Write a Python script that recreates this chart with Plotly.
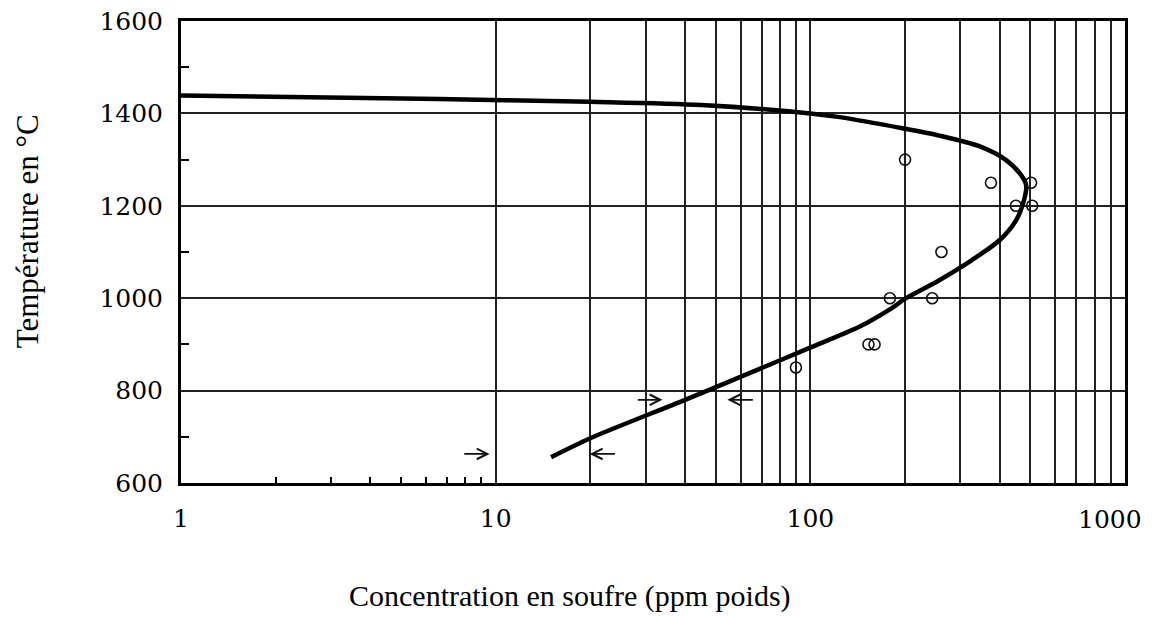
import numpy as np
import plotly.graph_objects as go

# Solubility curve (sulfur concentration ppm vs temperature °C)
curve_ppm = [1, 6.6, 20, 45, 100, 124, 196, 257, 344, 419, 467, 485, 478, 451, 400, 327, 257, 199, 182, 143, 99, 69, 40, 20, 15]
curve_temp = [1439, 1431, 1425, 1418, 1400, 1392, 1368, 1352, 1329, 1299, 1267, 1245, 1213, 1169, 1126, 1083, 1039, 998, 979, 938, 892, 847, 780, 697, 656]

# Measured points (open circles)
pts_ppm = [200, 375, 503, 450, 507, 261, 179, 244, 153, 160, 90]
pts_temp = [1300, 1250, 1250, 1200, 1200, 1100, 1000, 1000, 900, 900, 850]

# Arrows: tail -> head
arr_tail_ppm = [7.86, 24.2, 28.0, 66.4]
arr_head_ppm = [9.57, 19.9, 33.9, 54.5]
arr_temp = [663, 663, 780, 780]

# Ticks
x_tickvals = [1, 10, 20, 30, 40, 50, 60, 70, 80, 90, 100, 200, 300, 400, 500, 600, 700, 800, 900, 1000]
x_ticktext = ["1", "10", "", "", "", "", "", "", "", "", "100", "", "", "", "", "", "", "", "", ""]
x_last_label = "1000"
x_minor = [2, 3, 4, 5, 6, 7, 8, 9]
y_tickvals = [600, 800, 1000, 1200, 1400, 1600]
y_minor = [700, 900, 1100, 1300, 1500]

fig = go.Figure()
fig.add_trace(go.Scatter(x=curve_ppm, y=curve_temp, mode="lines",
                         line=dict(color="black", width=4.5, shape="spline", smoothing=0.8),
                         hoverinfo="skip", showlegend=False))
fig.add_trace(go.Scatter(x=pts_ppm, y=pts_temp, mode="markers",
                         marker=dict(symbol="circle-open", size=11, color="#111", line=dict(width=1.6)),
                         showlegend=False))

anns = []
for t, h, y in zip(arr_tail_ppm, arr_head_ppm, arr_temp):
    anns.append(dict(x=np.log10(h), y=y, ax=np.log10(t), ay=y, xref="x", yref="y",
                     axref="x", ayref="y", text="", showarrow=True, arrowhead=5,
                     arrowsize=1.3, arrowwidth=1.6, arrowcolor="#111", standoff=0))

tickfont = dict(family="DejaVu Serif, serif", size=25, color="black")
serif = "Liberation Serif, Times New Roman, serif"
anns.append(dict(text=x_last_label, x=3, y=0, xref="x", yref="paper", showarrow=False,
                 xanchor="right", yanchor="top", xshift=19, yshift=-20, font=tickfont))
anns.append(dict(text="Concentration en soufre (ppm poids)", x=0.412, y=-0.245, xref="paper", yref="paper",
                 showarrow=False, xanchor="center", yanchor="middle",
                 font=dict(family=serif, size=30, color="black")))
anns.append(dict(text="Température en °C", x=-0.163, y=0.545, xref="paper", yref="paper",
                 showarrow=False, xanchor="center", yanchor="middle", textangle=-90,
                 font=dict(family=serif, size=31, color="black")))

fig.update_layout(
    width=1158, height=617,
    margin=dict(l=181, r=33, t=21, b=134, autoexpand=False),
    paper_bgcolor="white", plot_bgcolor="white",
    annotations=anns,
    xaxis=dict(type="log", range=[0, 3], tickvals=x_tickvals, ticktext=x_ticktext,
               showgrid=True, gridcolor="#222", gridwidth=1.6, automargin=False,
               showline=True, linecolor="black", linewidth=3, mirror=True,
               ticks="", tickfont=tickfont, ticklabelstandoff=11, zeroline=False,
               minor=dict(tickvals=x_minor, ticks="inside", ticklen=6, tickwidth=1.5, tickcolor="black", showgrid=False)),
    yaxis=dict(range=[600, 1600], tickvals=y_tickvals,
               showgrid=True, gridcolor="#222", gridwidth=1.6, automargin=False,
               showline=True, linecolor="black", linewidth=3, mirror=True,
               ticks="", tickfont=tickfont, ticklabelstandoff=10, zeroline=False,
               minor=dict(tickvals=y_minor, ticks="inside", ticklen=8, tickwidth=1.5, tickcolor="black", showgrid=False)),
)
fig.write_html("out.html")
